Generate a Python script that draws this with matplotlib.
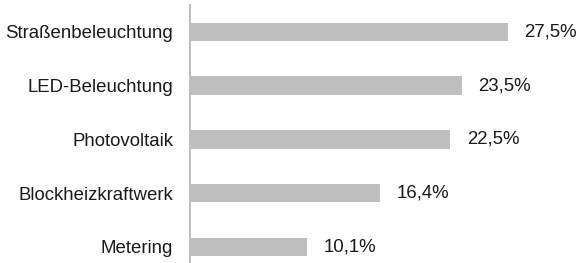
import matplotlib.pyplot as plt

plt.rcParams['font.family'] = ['Liberation Sans', 'DejaVu Sans']

categories = ["Straßenbeleuchtung", "LED-Beleuchtung", "Photovoltaik",
              "Blockheizkraftwerk", "Metering"]
values = [27.5, 23.5, 22.5, 16.4, 10.1]
value_labels = ["27,5%", "23,5%", "22,5%", "16,4%", "10,1%"]

fig = plt.figure(figsize=(5.79, 2.63), dpi=100)
ax = fig.add_axes([190 / 579, 0, 1 - 190 / 579, 258 / 263])

pos = list(range(len(categories)))[::-1]
ax.barh(pos, values, height=0.34, color='#bfbfbf')

for p, v, lab in zip(pos, values, value_labels):
    ax.annotate(lab, (v, p), xytext=(12, 0), textcoords='offset points',
                va='center', ha='left', fontsize=13.4, color='#1a1a1a')

ax.set_yticks(pos)
ax.set_yticklabels(categories, fontsize=13.4, color='#1a1a1a')
ax.tick_params(axis='y', length=0, pad=12)
ax.set_xticks([])
ax.set_xlim(0, 33.65)
ax.set_ylim(-0.3, 4.5)

for s in ['top', 'right', 'bottom']:
    ax.spines[s].set_visible(False)
ax.spines['left'].set_color('#bfbfbf')
ax.spines['left'].set_linewidth(1.5)

fig.savefig('out.png', dpi=100)
